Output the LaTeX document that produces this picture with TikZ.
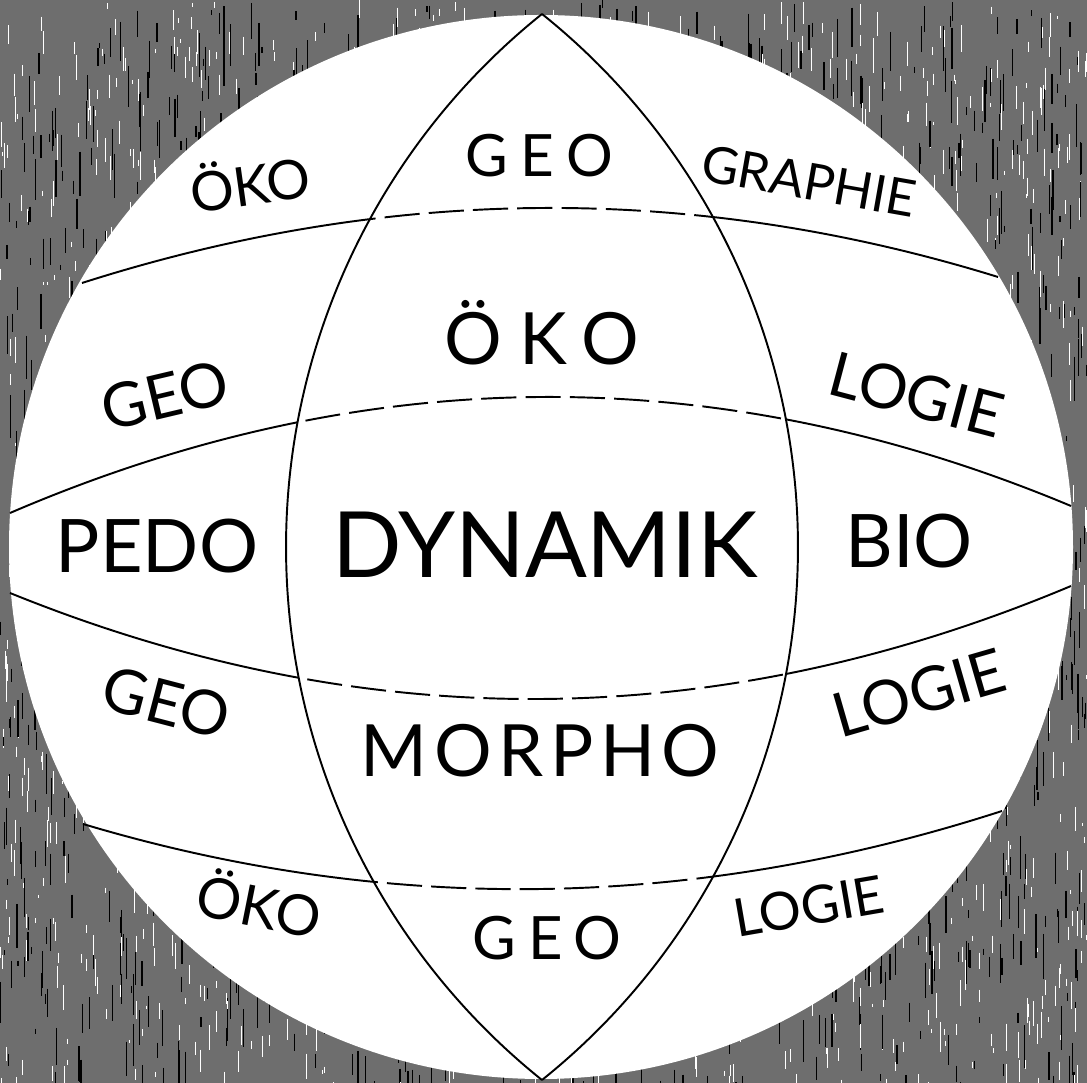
\documentclass[tikz,border=0pt]{standalone}
\usepackage{fontspec}
\setmainfont{Lato}

\begin{document}
\begin{tikzpicture}[x=0.01cm, y=0.01cm,
    wire/.style={line width=0.55pt},
    hiddenpart/.style={line width=0.55pt, dash pattern=on 10pt off 2.6pt,
      preaction={draw, white, line width=2.4pt, solid}},
    word/.style={anchor=base, inner sep=0pt},
  ]
  \useasboundingbox (0,0) rectangle (1087,-1083);
  % grainy paper around the globe
  \fill[black!57] (0,0) rectangle (1087,-1083);
  \pgfmathsetseed{11}
  \foreach \k in {1,...,1800} {
    \pgfmathsetmacro{\tx}{rnd*1087}
    \pgfmathsetmacro{\ty}{-rnd*1083}
    \pgfmathsetmacro{\tl}{3+rnd*25}
    \draw[white, line width=0.25pt] (\tx,\ty) -- ++(0,-\tl);
    \pgfmathsetmacro{\tx}{rnd*1087}
    \pgfmathsetmacro{\ty}{-rnd*1083}
    \pgfmathsetmacro{\tl}{5+rnd*40}
    \draw[black, line width=0.35pt] (\tx,\ty) -- ++(0,-\tl);
  }
  \fill[white] (541,-547) circle[radius=532];

  \coordinate (north) at (542,-14);
  \coordinate (south) at (542,-1080);

  % parallels: solid outside, dashed between the meridians
  \foreach \lx/\ly/\ax/\ay/\bx/\by/\rx/\ry in {82/283/388.7/185/694/183/998/277,
      10/513/364.3/360.7/718/358.3/1071/506, 10/593/364.3/736.7/718/734.3/1071/586,
      83/824/387.3/915/693.7/910.7/1002/811}
    \draw[wire] (\lx,-\ly) .. controls (\ax,-\ay) and (\bx,-\by) .. (\rx,-\ry);
  \begin{scope}
    \clip (north) arc[start angle=128.7, end angle=231.3, radius=683]
      arc[start angle=-51.3, end angle=51.3, radius=683] -- cycle;
    \foreach \lx/\ly/\ax/\ay/\bx/\by/\rx/\ry in {82/283/388.7/185/694/183/998/277,
        10/513/364.3/360.7/718/358.3/1071/506, 10/593/364.3/736.7/718/734.3/1071/586,
        83/824/387.3/915/693.7/910.7/1002/811}
      \draw[hiddenpart] (\lx,-\ly) .. controls (\ax,-\ay) and (\bx,-\by) .. (\rx,-\ry);
  \end{scope}

  % meridians
  \draw[wire] (north) arc[start angle=128.7, end angle=231.3, radius=683];
  \draw[wire] (south) arc[start angle=-51.3, end angle=51.3, radius=683];

  \node[word, font=\fontsize{16.6pt}{17pt}\selectfont\addfontfeatures{LetterSpace=22}] (geotop) at (539,-177) {GEO};
  \node[word, font=\fontsize{20.5pt}{21pt}\selectfont\addfontfeatures{LetterSpace=24}] (okomid) at (542,-365) {ÖKO};
  \node[word, font=\fontsize{21pt}{21pt}\selectfont] (pedo) at (157,-573) {PEDO};
  \node[word, font=\fontsize{26pt}{26pt}\selectfont] (dynamik) at (545,-578) {DYNAMIK};
  \node[word, font=\fontsize{21pt}{21pt}\selectfont] (bio) at (909,-568) {BIO};
  \node[word, font=\fontsize{20.5pt}{21pt}\selectfont\addfontfeatures{LetterSpace=9}] (morpho) at (540,-777) {MORPHO};
  \node[word, font=\fontsize{17pt}{17pt}\selectfont\addfontfeatures{LetterSpace=20}] (geobottom) at (547,-960) {GEO};

  % words tilted with the latitudes
  \node[word, rotate=8, font=\fontsize{15.5pt}{15pt}\selectfont] (okotl) at (253,-205) {ÖKO};
  \node[word, rotate=-10, font=\fontsize{14.5pt}{15pt}\selectfont] (graphie) at (806,-199) {GRAPHIE};
  \node[word, rotate=13.3, font=\fontsize{17.5pt}{17pt}\selectfont] (geolu) at (170,-417) {GEO};
  \node[word, rotate=-14.8, font=\fontsize{17.5pt}{17pt}\selectfont] (logieru) at (911,-416) {LOGIE};
  \node[word, rotate=-14.6, font=\fontsize{17.5pt}{17pt}\selectfont] (geoll) at (161,-724) {GEO};
  \node[word, rotate=16.1, font=\fontsize{17.5pt}{17pt}\selectfont] (logierl) at (925,-714) {LOGIE};
  \node[word, rotate=-11.3, font=\fontsize{16pt}{16pt}\selectfont] (okobl) at (255,-927) {ÖKO};
  \node[word, rotate=9.8, font=\fontsize{15pt}{15pt}\selectfont] (logiebr) at (812,-925) {LOGIE};
\end{tikzpicture}
\end{document}
